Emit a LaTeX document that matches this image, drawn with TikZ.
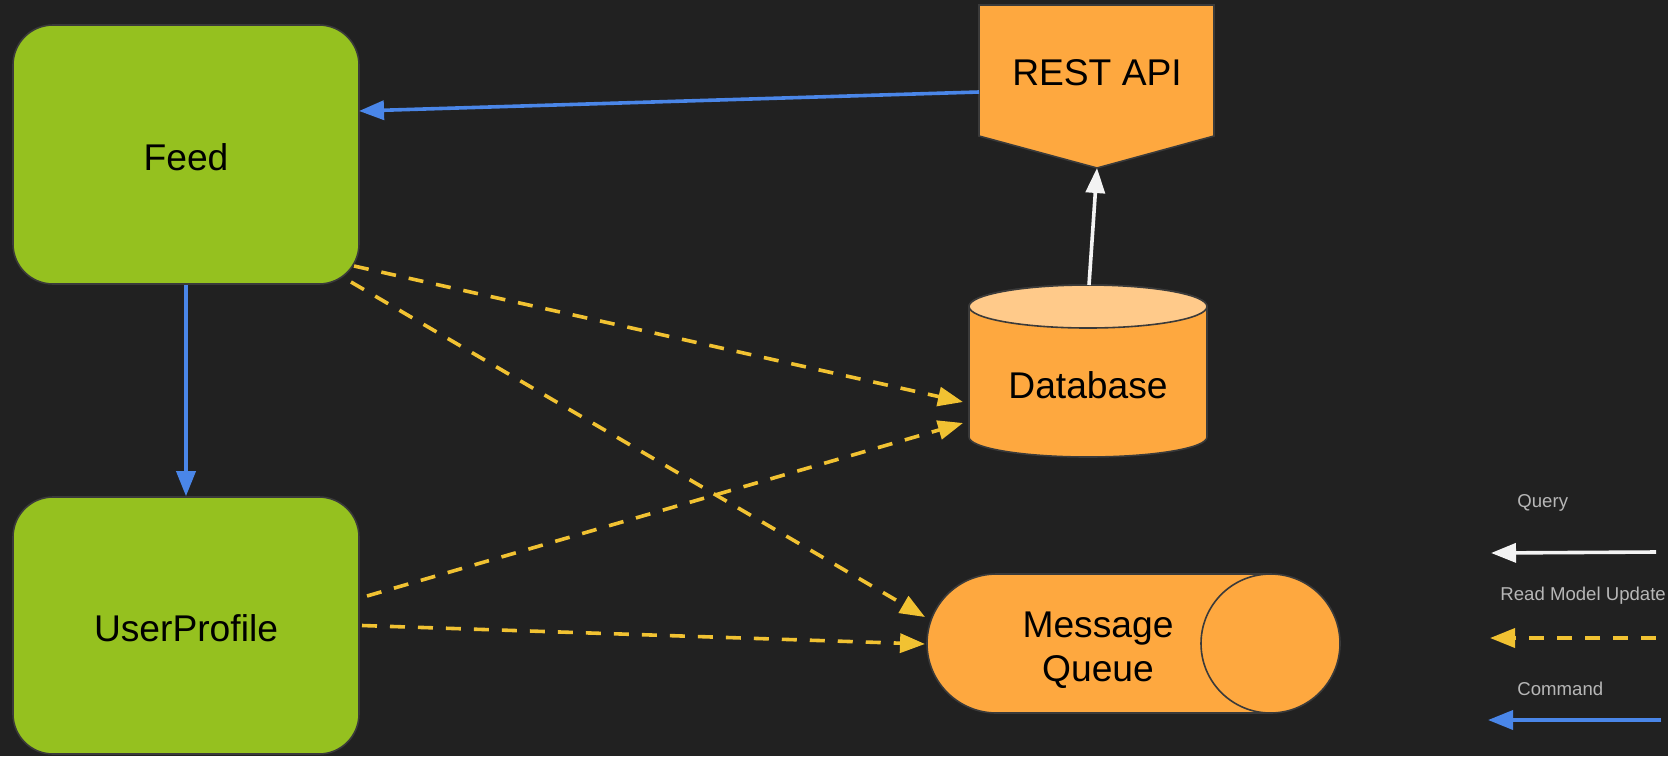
\documentclass[tikz,border=0pt]{standalone}
\usepackage{fontspec}
\setmainfont{Liberation Sans}
\usetikzlibrary{arrows.meta}
\definecolor{bgc}{HTML}{212121}
\definecolor{greenc}{HTML}{95C11F}
\definecolor{orangec}{HTML}{FEA83F}
\definecolor{lightorange}{HTML}{FFCA8A}
\definecolor{bluec}{HTML}{4A86E8}
\definecolor{yellowc}{HTML}{F1C232}
\definecolor{whitec}{HTML}{F3F3F3}
\definecolor{legendtext}{HTML}{B7B7B7}
\definecolor{outlinec}{HTML}{3A3A3A}
\begin{document}
\begin{tikzpicture}[x=0.5pt,y=-0.5pt,
  greenbox/.style={draw=outlinec,line width=0.8pt,fill=greenc,rounded corners=20pt,
    minimum width=173pt,inner sep=0pt,text=black},
  label18/.style={inner sep=0pt,font=\fontsize{18.6pt}{22pt}\selectfont,text=black,align=center},
  orangeshape/.style={draw=outlinec,line width=0.8pt,fill=orangec},
  cmdarrow/.style={draw=bluec,line width=1.8pt,-{Triangle[length=12.5pt,width=9.5pt]}},
  qryarrow/.style={draw=whitec,line width=1.8pt,-{Triangle[length=12.5pt,width=9.5pt]}},
  updarrow/.style={draw=yellowc,line width=1.8pt,dash pattern=on 7.5pt off 6.5pt,
    -{Triangle[length=12.5pt,width=9.5pt]}},
  legendlabel/.style={anchor=west,inner sep=0pt,text=legendtext,font=\fontsize{9.3pt}{11pt}\selectfont}
]
\fill[bgc] (0,0) rectangle (1668,756);
\useasboundingbox (0,0) rectangle (1668,756);

% Green boxes
\node[greenbox,minimum height=129.5pt] (feed) at (186,154.5) {};
\node[greenbox,minimum height=128.5pt] (user) at (186,625.5) {};
\node[label18] (feedlabel) at (186,157) {Feed};
\node[label18] (userlabel) at (186,628) {UserProfile};

% REST API
\filldraw[orangeshape] (979,5) -- (1214,5) -- (1214,136) -- (1097,168) -- (979,136) -- cycle;
\node[label18] (rest) at (1097,72.5) {REST API};
\coordinate (restTip) at (1097,168);
\coordinate (restLeft) at (979,92);

% Database cylinder
\filldraw[orangeshape] (969,306.5) -- (969,437)
  arc[start angle=180,end angle=360,x radius=59.5pt,y radius=10pt]
  -- (1207,306.5)
  arc[start angle=0,end angle=180,x radius=59.5pt,y radius=10.75pt] -- cycle;
\filldraw[draw=outlinec,line width=0.8pt,fill=lightorange] (1088,306.5) ellipse[x radius=59.5pt,y radius=10.75pt];
\node[label18] (db) at (1088,385) {Database};
\coordinate (dbTop) at (1089,285);
\coordinate (dbIn1) at (963,402);
\coordinate (dbIn2) at (963,423);

% Message queue
\filldraw[orangeshape,rounded corners=34.75pt] (927,574) rectangle (1340,713);
\draw[outlinec,line width=0.8pt] (1270.5,574) arc[start angle=90,end angle=270,radius=34.75pt];
\node[label18] (mq) at (1098,650) {Message\\Queue};
\coordinate (mqIn1) at (925,617);
\coordinate (mqIn2) at (925,644);

% Feed / user anchors
\coordinate (feedIn) at (359,111);
\coordinate (feedOut1) at (354,266);
\coordinate (feedOut2) at (351,282);
\coordinate (userOut1) at (367,596);
\coordinate (userOut2) at (362,625.5);

% Connectors
\draw[cmdarrow] (restLeft) -- (feedIn);
\draw[cmdarrow] (feed.south) -- (user.north);
\draw[qryarrow] (dbTop) -- (restTip);
\draw[updarrow] (feedOut1) -- (dbIn1);
\draw[updarrow] (feedOut2) -- (mqIn1);
\draw[updarrow] (userOut1) -- (dbIn2);
\draw[updarrow] (userOut2) -- (mqIn2);

% Legend
\node[legendlabel] (lq) at (1517,503) {Query};
\node[legendlabel] (lr) at (1500,596) {Read Model Update};
\node[legendlabel] (lc) at (1517,689) {Command};
\coordinate (lqS) at (1656,552);
\coordinate (lqE) at (1491,553);
\coordinate (lrS) at (1656,638);
\coordinate (lrE) at (1490,638);
\coordinate (lcS) at (1661,720);
\coordinate (lcE) at (1488,720);
\draw[qryarrow] (lqS) -- (lqE);
\draw[updarrow] (lrS) -- (lrE);
\draw[cmdarrow] (lcS) -- (lcE);
\end{tikzpicture}
\end{document}
